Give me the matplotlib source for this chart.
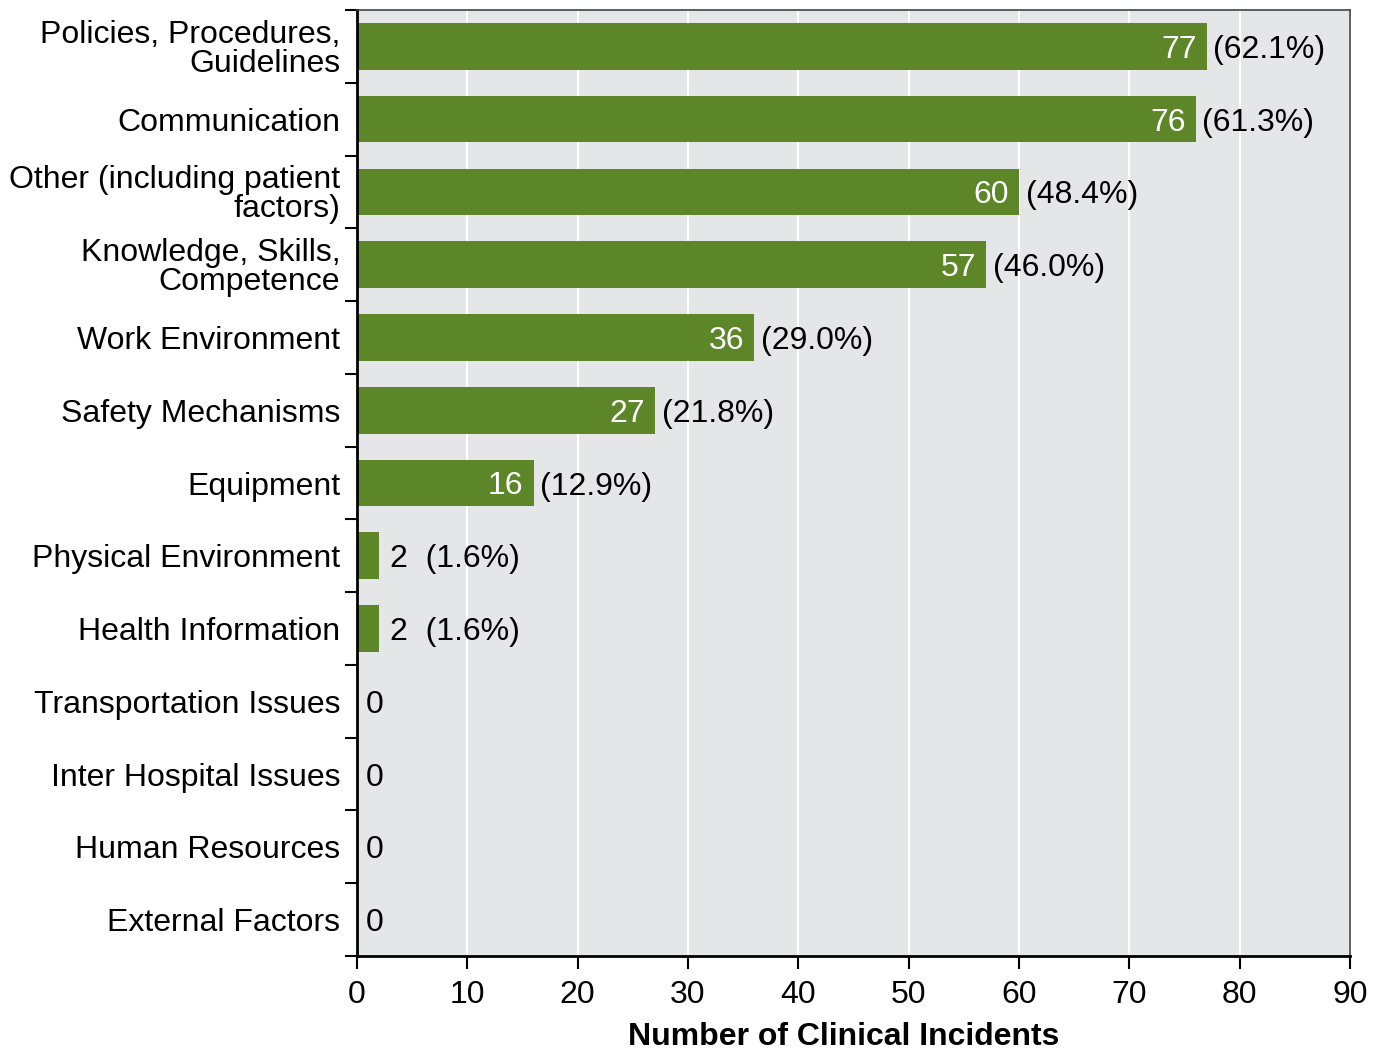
import matplotlib
matplotlib.use("Agg")
import matplotlib.pyplot as plt
import numpy as np

plt.rcParams['font.family'] = ['Liberation Sans', 'DejaVu Sans']

categories = ["Policies, Procedures,\nGuidelines", "Communication",
              "Other (including patient\nfactors)", "Knowledge, Skills,\nCompetence",
              "Work Environment", "Safety Mechanisms", "Equipment",
              "Physical Environment", "Health Information",
              "Transportation Issues", "Inter Hospital Issues",
              "Human Resources", "External Factors"]
counts = [77, 76, 60, 57, 36, 27, 16, 2, 2, 0, 0, 0, 0]
percents = [62.1, 61.3, 48.4, 46.0, 29.0, 21.8, 12.9, 1.6, 1.6, 0, 0, 0, 0]
xticks = [0, 10, 20, 30, 40, 50, 60, 70, 80, 90]

FS = 23
green = "#5c8628"
fig = plt.figure(figsize=(13.86, 10.52), dpi=100)
ax = fig.add_axes([357/1386, 1 - 956/1052, (1350-357)/1386, (956-10)/1052])
ax.set_facecolor("#e5e6e8")

n = len(categories)
y = np.arange(n)
ax.barh(y, counts, height=0.64, color=green, zorder=2)
ax.set_ylim(n - 0.5, -0.5)
ax.set_xlim(0, 90)
ax.set_xticks(xticks)
ax.set_xticklabels([str(t) for t in xticks], fontsize=FS)
ax.xaxis.grid(True, color="white", linewidth=1.5, zorder=1)
ax.set_axisbelow(True)

ax.set_yticks(y)
ax.set_yticklabels(categories, fontsize=FS, linespacing=0.95)
ax.tick_params(axis='y', length=0, pad=12)
ax.set_yticks(np.arange(n + 1) - 0.5, minor=True)
ax.tick_params(axis='y', which='minor', length=9, width=1.5, direction='out')
ax.tick_params(axis='x', length=9, width=1.5, pad=8)
for lab in ax.get_yticklabels():
    lab.set_horizontalalignment('right')

for side in ['left', 'bottom']:
    ax.spines[side].set_linewidth(2)
for side in ['top', 'right']:
    ax.spines[side].set_linewidth(1.2)
    ax.spines[side].set_color("#444444")

for i, (c, p) in enumerate(zip(counts, percents)):
    if c >= 10:
        ax.text(c - 0.9, i, str(c), color="white", fontsize=FS, ha="right", va="center_baseline", zorder=3)
        ax.text(c + 0.6, i, f"({p:.1f}%)", color="black", fontsize=FS, ha="left", va="center_baseline", zorder=3)
    elif c > 0:
        ax.text(c + 1.0, i, f"{c}  ({p:.1f}%)", color="black", fontsize=FS, ha="left", va="center_baseline", zorder=3)
    else:
        ax.text(0.8, i, "0", color="black", fontsize=FS, ha="left", va="center_baseline", zorder=3)

ax.set_xlabel("Number of Clinical Incidents", fontsize=FS, fontweight="bold", labelpad=12)
ax.xaxis.set_label_coords(0.49, -0.07)

fig.savefig("out.png", dpi=100)
